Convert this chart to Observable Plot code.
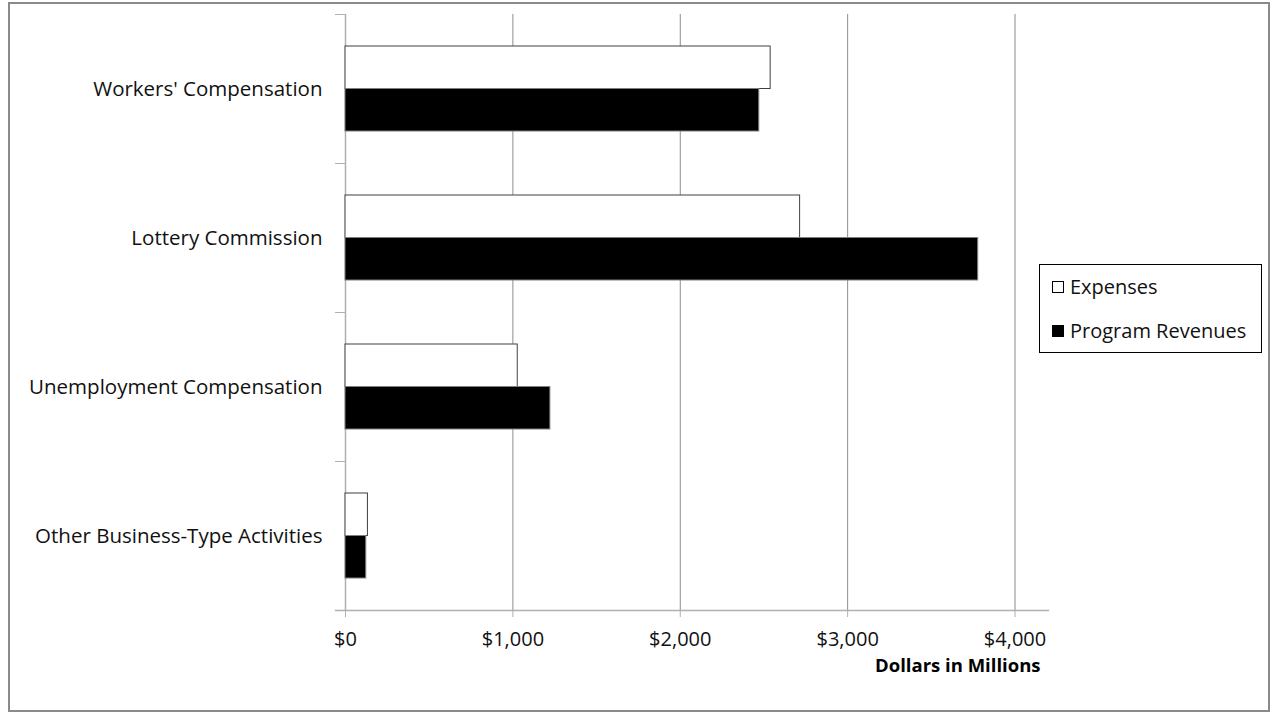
<!DOCTYPE html>
<html>
<head>
<meta charset="utf-8">
<script src="https://cdn.jsdelivr.net/npm/d3@7"></script>
<script src="https://cdn.jsdelivr.net/npm/@observablehq/plot@0.6"></script>
<style>
  body { margin: 0; background: #fff; }
  #wrap { position: relative; width: 1273px; height: 715px; overflow: hidden; font-family: "Open Sans", sans-serif; }
  #border { position: absolute; left: 8px; top: 2px; width: 1262px; height: 710px; border: 2px solid #8a8a8a; box-sizing: border-box; pointer-events: none; }
  #legend { position: absolute; left: 1039px; top: 264px; width: 223px; height: 89px; border: 1px solid #000; box-sizing: border-box; font-size: 20px; color: #111; }
  .item { position: absolute; left: 12px; display: flex; align-items: center; white-space: nowrap; line-height: 24px; }
  .sw { width: 12px; height: 12px; box-sizing: border-box; border: 1px solid #000; margin-right: 6px; }
</style>
</head>
<body>
<div id="wrap">
  <div id="chart"></div>
  <div id="border"></div>
  <div id="legend"></div>
</div>
<script>
const categories = ["Workers' Compensation", "Lottery Commission", "Unemployment Compensation", "Other Business-Type Activities"];
const series = ["Expenses", "Program Revenues"];
const expenses = [2540, 2716, 1029, 134];
const programRevenues = [2472, 3780, 1224, 124];
const xTicks = [0, 1000, 2000, 3000, 4000];
const gridTicks = [1000, 2000, 3000, 4000];
const seriesFill = ["#ffffff", "#000000"];
const seriesStroke = ["#404040", "#7f7f7f"];

const expData = categories.map((c, i) => ({category: c, value: expenses[i]}));
const revData = categories.map((c, i) => ({category: c, value: programRevenues[i]}));

const font = "Open Sans, sans-serif";
const chart = Plot.plot({
  width: 1273,
  height: 715,
  marginLeft: 345,
  marginRight: 225,
  marginTop: 14,
  marginBottom: 105,
  style: {fontFamily: font, fontSize: "20px", color: "#111", background: "transparent"},
  x: {domain: [0, 4200], axis: null},
  y: {domain: categories, padding: 0, axis: null},
  marks: [
    Plot.ruleX(gridTicks, {stroke: "#8c8c8c", strokeWidth: 1}),
    Plot.ruleX([0], {stroke: "#b0b0b0", strokeWidth: 1.5}),
    Plot.frame({anchor: "bottom", stroke: "#b0b0b0", strokeWidth: 1.5, insetLeft: -10}),
    Plot.barX(expData, {y: "category", x: "value", fill: seriesFill[0], stroke: seriesStroke[0], strokeWidth: 1, insetTop: 32, insetBottom: 74.5}),
    Plot.barX(revData, {y: "category", x: "value", fill: seriesFill[1], stroke: seriesStroke[1], strokeWidth: 1, insetTop: 74.5, insetBottom: 32}),
    Plot.axisY(categories, {anchor: "left", tickSize: 10, text: null, dy: -74.5, stroke: "#b0b0b0", label: null}),
    Plot.axisY(categories, {anchor: "left", tickSize: 0, tickPadding: 23, fontSize: 20.5, fill: "#111", label: null}),
    Plot.axisX(xTicks, {anchor: "bottom", tickSize: 7, tickPadding: 14, stroke: "#b0b0b0", fontSize: 20, fill: "#111", tickFormat: d => "$" + d3.format(",")(d), label: null}),
    Plot.text(["Dollars in Millions"], {frameAnchor: "bottom-right", textAnchor: "end", dx: -8, dy: 61, fontWeight: "bold", fontSize: 18.5, fill: "#000"})
  ]
});
chart.style.position = "absolute";
chart.style.left = "0";
chart.style.top = "0";
document.getElementById("chart").appendChild(chart);

const legend = document.getElementById("legend");
series.forEach((s, i) => {
  const item = document.createElement("div");
  item.className = "item";
  item.style.top = (i === 0 ? 10 : 54) + "px";
  const sw = document.createElement("div");
  sw.className = "sw";
  sw.style.background = seriesFill[i];
  const t = document.createElement("span");
  t.textContent = s;
  item.appendChild(sw);
  item.appendChild(t);
  legend.appendChild(item);
});
</script>
</body>
</html>
